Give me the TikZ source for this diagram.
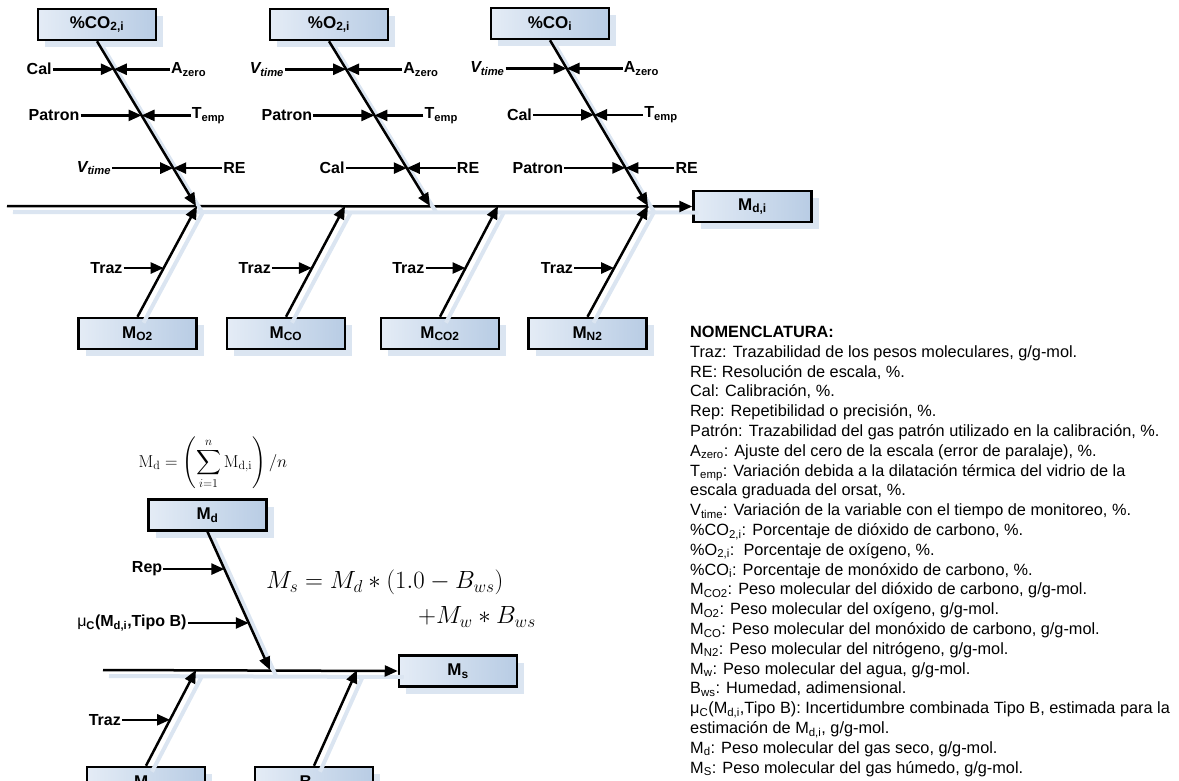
\documentclass[tikz,border=0pt]{standalone}
\usepackage[no-math]{fontspec}
\setmainfont{Liberation Sans}
\usepackage{amsmath}
\usetikzlibrary{positioning}
\usetikzlibrary{calc}
\usetikzlibrary{arrows.meta}
\usetikzlibrary{shadows}
\definecolor{boxl}{RGB}{228,236,246}
\definecolor{boxr}{RGB}{184,204,228}
\definecolor{shadowblue}{RGB}{219,229,241}

\newcommand{\Vtime}{\textit{V\textsubscript{time}}}
\newcommand{\Azero}{A\textsubscript{zero}}
\newcommand{\Tempe}{T\textsubscript{emp}}

\begin{document}
\begin{tikzpicture}[
    x=1pt, y=-1pt,
    >={Triangle[length=13pt,width=11pt]},
    mbox/.style={draw=black, line width=2.5pt, left color=boxl, right color=boxr,
        minimum width=118pt, minimum height=31pt, inner sep=0pt,
        font=\fontsize{17}{20}\selectfont\bfseries,
        drop shadow={shadow xshift=7pt, shadow yshift=-7pt, fill=shadowblue, opacity=1}},
    lab/.style={inner sep=1pt, font=\fontsize{16}{19}\selectfont\bfseries},
    bone/.style={line width=2.5pt, ->,
        preaction={draw=shadowblue, line width=4pt, arrows=-,
            transform canvas={shift={(6pt,-6pt)}}}},
    cause/.style={line width=2.5pt, ->}
]
    \useasboundingbox (0,0) rectangle (1179,780);

    % --- Molecular weight of dry gas per sample ---
    \node[mbox] (mdi) at (752.5,206.5) {M\textsubscript{d,i}};
    \coordinate (tail) at (7,206);
    \draw[bone] (tail) -- (mdi.west);

    \node[mbox] (co2) at (97,24.5) {\%CO\textsubscript{2,i}};
    \node[mbox] (o2) at (329,24.5) {\%O\textsubscript{2,i}};
    \node[mbox] (co) at (550,23.5) {\%CO\textsubscript{i}};
    \coordinate (co2j) at (196,206);
    \coordinate (o2j) at (430,206);
    \coordinate (coj) at (648,206);

    \foreach \br/\cA/\dA/\cB/\dB/\cC/\dC in {
        co2/Cal/\Azero/Patron/\Tempe/\Vtime/RE,
        o2/\Vtime/\Azero/Patron/\Tempe/Cal/RE,
        co/\Vtime/\Azero/Cal/\Tempe/Patron/RE} {
        \draw[bone] (\br.south) -- (\br j);
        \path (\br.south) -- (\br j) coordinate[pos=0.17] (\br a)
            coordinate[pos=0.45] (\br b) coordinate[pos=0.77] (\br c);
        \node[lab, left=61pt of \br a] (\br la) {\cA};
        \node[lab, right=56pt of \br a] (\br ra) {\dA};
        \node[lab, left=61pt of \br b] (\br lb) {\cB};
        \node[lab, right=49pt of \br b] (\br rb) {\dB};
        \node[lab, left=61pt of \br c] (\br lc) {\cC};
        \node[lab, right=49pt of \br c] (\br rc) {\dC};
        \draw[cause] (\br la) -- (\br a);
        \draw[cause] (\br ra) -- (\br a);
        \draw[cause] (\br lb) -- (\br b);
        \draw[cause] (\br rb) -- (\br b);
        \draw[cause] (\br lc) -- (\br c);
        \draw[cause] (\br rc) -- (\br c);
    }

    \foreach \br/\x/\j/\t in {mo2/137.5/197/O2, mco/286/345/CO,
        mco2/440/498/CO2, mn2/587.5/648/N2} {
        \node[mbox] (\br) at (\x,333.5) {M\textsubscript{\t}};
        \coordinate (\br j) at (\j,206);
        \draw[bone] (\br.north) -- (\br j);
        \path (\br.north) -- (\br j) coordinate[pos=0.44] (\br p);
        \node[lab, left=40pt of \br p] (\br t) {Traz};
        \draw[cause] (\br t) -- (\br p);
    }

    % --- Molecular weight of wet gas ---
    \node[font=\fontsize{17}{20}\selectfont] (mdform) at (213,463)
        {$\displaystyle \mathrm{M_d} = \left(\sum_{i=1}^{n}\mathrm{M_{d,i}}\right)/n$};
    \node[mbox] (md) at (207.5,515) {M\textsubscript{d}};
    \node[mbox] (ms) at (458,671) {M\textsubscript{s}};
    \coordinate (tail2) at (103,670);
    \draw[bone] (tail2) -- (ms.west);

    \coordinate (mdj) at (270,670);
    \draw[bone] (md.south) -- (mdj);
    \path (md.south) -- (mdj) coordinate[pos=0.27] (mdp) coordinate[pos=0.66] (mdq);
    \node[lab, left=61pt of mdp] (rep) {Rep};
    \node[lab, left=61pt of mdq] (muc) {{\mdseries μ}\textsubscript{C}(M\textsubscript{d,i},Tipo B)};
    \draw[cause] (rep) -- (mdp);
    \draw[cause] (muc) -- (mdq);

    \node[anchor=north west, align=left, inner sep=0pt, font=\fontsize{26}{35}\selectfont]
        (msform) at (266,570) {$M_s = M_d * (1.0 - B_{ws})$\\
        \hspace*{152pt}$+M_w * B_{ws}$};

    \node[mbox] (mw) at (146,782.5) {M\textsubscript{w}};
    \node[mbox] (bws) at (314,782.5) {B\textsubscript{ws}};
    \coordinate (mwj) at (196,670);
    \coordinate (bwsj) at (357,670);
    \draw[bone] (mw.north) -- (mwj);
    \draw[bone] (bws.north) -- (bwsj);
    \path (mw.north) -- (mwj) coordinate[pos=0.48] (mwp);
    \node[lab, left=48pt of mwp] (mwt) {Traz};
    \draw[cause] (mwt) -- (mwp);

    % --- Nomenclature ---
    \node[anchor=north west, align=left, inner sep=0pt,
        font=\fontsize{16.3}{19.8}\selectfont] (nomen) at (690,326) {%
        \textbf{NOMENCLATURA:}\\
        Traz: Trazabilidad de los pesos moleculares, g/g-mol.\\
        RE: Resolución de escala, \%.\\
        Cal: Calibración, \%.\\
        Rep: Repetibilidad o precisión, \%.\\
        Patrón: Trazabilidad del gas patrón utilizado en la calibración, \%.\\
        A\textsubscript{zero}: Ajuste del cero de la escala (error de paralaje), \%.\\
        T\textsubscript{emp}: Variación debida a la dilatación térmica del vidrio de la\\
        escala graduada del orsat, \%.\\
        V\textsubscript{time}: Variación de la variable con el tiempo de monitoreo, \%.\\
        \%CO\textsubscript{2,i}: Porcentaje de dióxido de carbono, \%.\\
        \%O\textsubscript{2,i}:\ \ Porcentaje de oxígeno, \%.\\
        \%CO\textsubscript{i}: Porcentaje de monóxido de carbono, \%.\\
        M\textsubscript{CO2}: Peso molecular del dióxido de carbono, g/g-mol.\\
        M\textsubscript{O2}: Peso molecular del oxígeno, g/g-mol.\\
        M\textsubscript{CO}: Peso molecular del monóxido de carbono, g/g-mol.\\
        M\textsubscript{N2}: Peso molecular del nitrógeno, g/g-mol.\\
        M\textsubscript{w}: Peso molecular del agua, g/g-mol.\\
        B\textsubscript{ws}: Humedad, adimensional.\\
        μ\textsubscript{C}(M\textsubscript{d,i},Tipo B): Incertidumbre combinada Tipo B, estimada para la\\
        estimación de M\textsubscript{d,i}, g/g-mol.\\
        M\textsubscript{d}: Peso molecular del gas seco, g/g-mol.\\
        M\textsubscript{S}: Peso molecular del gas húmedo, g/g-mol.};
\end{tikzpicture}
\end{document}
